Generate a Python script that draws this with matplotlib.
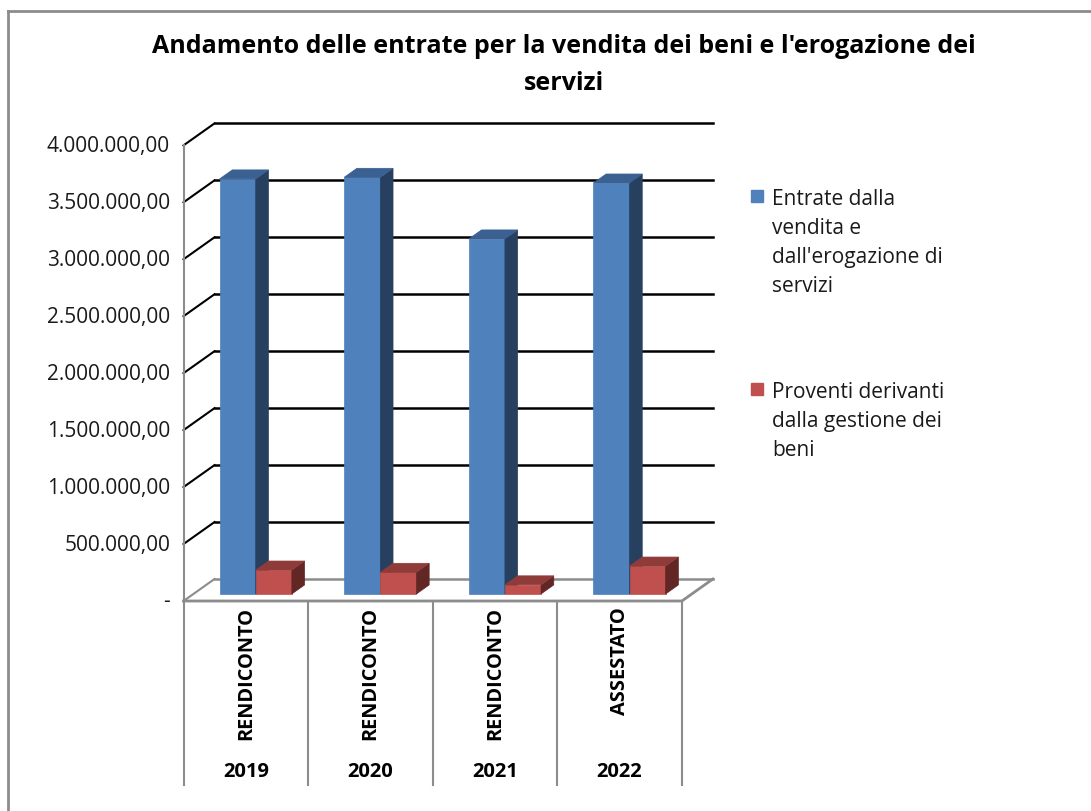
import matplotlib.pyplot as plt
from matplotlib.patches import Polygon, Rectangle

plt.rcParams["font.family"] = ["Open Sans", "DejaVu Sans"]

title_lines = ["Andamento delle entrate per la vendita dei beni e l'erogazione dei", "servizi"]
categories = ["RENDICONTO", "RENDICONTO", "RENDICONTO", "ASSESTATO"]
years = ["2019", "2020", "2021", "2022"]
series_names = [
    "Entrate dalla\nvendita e\ndall'erogazione di\nservizi",
    "Proventi derivanti\ndalla gestione dei\nbeni",
]
entrate = [3644000, 3658000, 3117000, 3608000]
proventi = [210000, 190000, 80000, 245000]
y_ticks = [0, 500000, 1000000, 1500000, 2000000, 2500000, 3000000, 3500000, 4000000]

# face colours: front, side, top
colors = [
    ("#4F81BD", "#27405F", "#3B6092"),
    ("#C0504D", "#622625", "#8F3B39"),
]
GRAY = "#8C8C8C"

W, H = 1091, 812
PX_PER_CAT = 124.6
PX_PER_UNIT = 113.9e-6
DX = 31 / PX_PER_CAT          # depth shift, category units
DY = 22 / PX_PER_UNIT         # depth shift, value units
FRONT, DEPTH = 0.32, 0.41     # bar depth position / thickness (fraction of floor depth)
BAR_W, BAR_OFF = 0.29, 0.21


def it_format(v):
    if v == 0:
        return "-"
    s = f"{v:,.2f}"
    return s.replace(",", "X").replace(".", ",").replace("X", ".")


fig = plt.figure(figsize=(W / 100, H / 100), dpi=100)
ax = fig.add_axes([183.5 / W, 1 - 602 / H, (4 + DX) * PX_PER_CAT / W,
                   (y_ticks[-1] + DY) * PX_PER_UNIT / H])
ax.set_xlim(0, 4 + DX)
ax.set_ylim(0, y_ticks[-1] + DY)
ax.axis("off")

# walls and floor
for v in y_ticks:
    c = GRAY if v == 0 else "black"
    ax.plot([DX, 4 + DX], [v + DY, v + DY], color=c, lw=1.8, zorder=1, clip_on=False)
    ax.plot([0, DX], [v, v + DY], color=c, lw=1.5, zorder=1, clip_on=False)
    ax.text(-0.108, v, it_format(v), ha="right", va="center", fontsize=15, color="#1a1a1a")
ax.plot([0, 0], [0, y_ticks[-1]], color=GRAY, lw=1.5, zorder=1, clip_on=False)
ax.plot([0, 4, 4 + DX], [0, 0, DY], color=GRAY, lw=2, zorder=1, clip_on=False)

# category table below the floor
label_bottom = -(786 - 602) / PX_PER_UNIT
for i in range(len(categories) + 1):
    ax.plot([i, i], [0, label_bottom], color=GRAY, lw=1.5, clip_on=False)
for i, (cat, yr) in enumerate(zip(categories, years)):
    ax.text(i + 0.5, -5 / PX_PER_UNIT, cat, rotation=90, ha="center", va="top",
            fontsize=14.4, fontweight="bold")
    ax.text(i + 0.5, -(772 - 602) / PX_PER_UNIT, yr, ha="center", va="center",
            fontsize=14.5, fontweight="bold")

# 3D-looking columns
for i in range(len(categories)):
    for s, vals in enumerate([entrate, proventi]):
        front, side, top = colors[s]
        val = vals[i]
        x0 = i + BAR_OFF + s * BAR_W + FRONT * DX
        y0 = FRONT * DY
        x1 = x0 + BAR_W
        ddx, ddy = DEPTH * DX, DEPTH * DY
        ax.bar(x0, val, width=BAR_W, bottom=y0, align="edge", color=front,
               edgecolor=front, lw=0.5, zorder=3)
        ax.add_patch(Polygon([(x1, y0), (x1 + ddx, y0 + ddy), (x1 + ddx, y0 + val + ddy),
                              (x1, y0 + val)], closed=True, facecolor=side,
                             edgecolor=side, lw=0.5, zorder=3))
        ax.add_patch(Polygon([(x0, y0 + val), (x1, y0 + val), (x1 + ddx, y0 + val + ddy),
                              (x0 + ddx, y0 + val + ddy)], closed=True, facecolor=top,
                             edgecolor=top, lw=0.5, zorder=3))

# title
for k, line in enumerate(title_lines):
    fig.text(564 / W, 1 - (53 + 37 * k) / H, line, ha="center", va="baseline",
             fontsize=18, fontweight="bold")

# legend
legend_tops = [191, 384]
for s, name in enumerate(series_names):
    t = legend_tops[s]
    fig.add_artist(Rectangle((751 / W, 1 - (t + 12) / H), 12 / W, 12 / H,
                             transform=fig.transFigure, color=colors[s][0]))
    for k, line in enumerate(name.split("\n")):
        fig.text(772 / W, 1 - (t + 14 + 29 * k) / H, line, ha="left", va="baseline",
                 fontsize=15, color="#1a1a1a")

# chart area border (top and left visible)
fig.add_artist(plt.Line2D([8 / W, 1.01], [1 - 12 / H, 1 - 12 / H], transform=fig.transFigure,
                          color=GRAY, lw=2))
fig.add_artist(plt.Line2D([8 / W, 8 / W], [1 - 12 / H, -0.01], transform=fig.transFigure,
                          color=GRAY, lw=2))

fig.savefig("out.png", dpi=100)
